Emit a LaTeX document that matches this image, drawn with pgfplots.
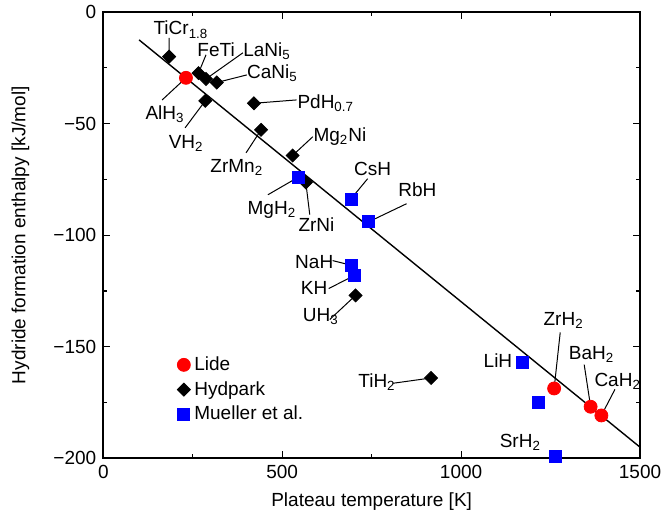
\documentclass[border=0pt]{standalone}
\usepackage{pgfplots}
\pgfplotsset{compat=1.18}
\usepackage{fontspec}
\setmainfont{Liberation Sans}
\definecolor{lidered}{RGB}{255,0,0}
\definecolor{muellerblue}{RGB}{0,0,255}

\begin{document}
\begin{tikzpicture}[font=\fontsize{9.5}{11}\selectfont]
\begin{axis}[
  set layers,
  scale only axis,
  width=268.35pt, height=223.15pt,
  xmin=0, xmax=1500, ymin=-200, ymax=0,
  xtick={0,500,1000,1500},
  ytick={-200,-150,-100,-50,0},
  yticklabels={−200,−150,−100,−50,0},
  minor x tick num=1, minor y tick num=1,
  tick align=inside,
  major tick length=3.5pt, minor tick length=2pt,
  axis line style={line width=0.9pt},
  every tick/.style={black, line width=0.6pt},
  /pgf/number format/assume math mode=true,
  /pgf/number format/set thousands separator={},
  xlabel={Plateau temperature [K]},
  ylabel={Hydride formation enthalpy [kJ/mol]},
  xlabel style={at={(axis description cs:0.5,0)}, anchor=base, yshift=-24.2pt},
  ylabel style={at={(axis description cs:-0.1453,0.5)}, anchor=base, rotate=0},
  clip=false,
  legend cell align=left,
  legend style={draw=none, fill=none, at={(0.126,0.247)}, anchor=north west,
    row sep=0pt, font=\fontsize{9.5}{11.5}\selectfont},
]

% leader lines from the labels to their compounds, kept behind the marks
\begin{pgfonlayer}{axis background}
\draw[line width=0.5pt]
  (axis cs:184,-11.6) -- (axis cs:184,-20)
  (axis cs:287,-19.2) -- (axis cs:266,-27.4)
  (axis cs:390,-18.3) -- (axis cs:287,-30)
  (axis cs:401,-28.2) -- (axis cs:317,-31.6)
  (axis cs:164.5,-39.4) -- (axis cs:231,-29.5)
  (axis cs:228.6,-51.9) -- (axis cs:285,-39.8)
  (axis cs:540,-39.4) -- (axis cs:421,-40.9)
  (axis cs:399,-63.1) -- (axis cs:441,-52.8)
  (axis cs:585.5,-55.9) -- (axis cs:529,-64.3)
  (axis cs:738.8,-74.7) -- (axis cs:692,-83.8)
  (axis cs:847.6,-85.9) -- (axis cs:742,-94)
  (axis cs:460,-81.9) -- (axis cs:544,-74.1)
  (axis cs:577,-90.8) -- (axis cs:566,-76.4)
  (axis cs:641,-111.4) -- (axis cs:693,-113.5)
  (axis cs:630,-123.9) -- (axis cs:703,-118)
  (axis cs:633,-137.8) -- (axis cs:705,-127)
  (axis cs:808.5,-166.4) -- (axis cs:916,-164)
  (axis cs:1277,-143.6) -- (axis cs:1260,-168.7)
  (axis cs:1344,-158) -- (axis cs:1362,-176.9)
  (axis cs:1430,-169.1) -- (axis cs:1392,-180.8);
\end{pgfonlayer}

% Lide
\addplot[only marks, mark=*, mark size=3.25pt, color=lidered]
  coordinates {(231,-29.5) (1260,-168.7) (1362,-176.9) (1392,-180.8)};
\addlegendentry{Lide}

% Hydpark
\addplot[only marks, mark=square*, mark size=2.3pt, mark options={rotate=45}, color=black]
  coordinates {(184,-20) (266,-27.4) (287,-30) (317,-31.6) (285,-39.8)
               (421,-40.9) (441,-52.8) (529,-64.3) (566,-76.4) (705,-127) (916,-164)};
\addlegendentry{Hydpark}

% Mueller et al.
\addplot[only marks, mark=square*, mark size=3pt, color=muellerblue]
  coordinates {(544,-74.1) (692,-83.8) (742,-94) (693,-113.5) (703,-118)
               (1172,-157) (1215,-175) (1264,-199)};
\addlegendentry{Mueller et al.}

% linear trend
\addplot[black, line width=0.7pt, forget plot] coordinates {(100,-12.5) (1500,-195)};

% compound labels
\begin{scope}[every node/.style={anchor=base west, inner sep=0pt}]
\node at (axis cs:139.4,-10.3) {TiCr\textsubscript{1.8}};
\node at (axis cs:262,-20) {FeTi};
\node at (axis cs:390.3,-20) {LaNi\textsubscript{5}};
\node at (axis cs:401,-29.7) {CaNi\textsubscript{5}};
\node at (axis cs:117,-48.3) {AlH\textsubscript{3}};
\node at (axis cs:182,-61.3) {VH\textsubscript{2}};
\node at (axis cs:541.7,-43.1) {PdH\textsubscript{0.7}};
\node at (axis cs:298.3,-71.9) {ZrMn\textsubscript{2}};
\node at (axis cs:586.4,-58) {Mg\textsubscript{2}Ni};
\node at (axis cs:699.8,-73.2) {CsH};
\node at (axis cs:823.3,-82.6) {RbH};
\node at (axis cs:402.3,-90.8) {MgH\textsubscript{2}};
\node at (axis cs:544.5,-98.3) {ZrNi};
\node at (axis cs:535.3,-115.1) {NaH};
\node at (axis cs:551.2,-126.6) {KH};
\node at (axis cs:556.8,-138.6) {UH\textsubscript{3}};
\node at (axis cs:711.8,-168.4) {TiH\textsubscript{2}};
\node at (axis cs:1229.5,-140.5) {ZrH\textsubscript{2}};
\node at (axis cs:1300,-155.7) {BaH\textsubscript{2}};
\node at (axis cs:1371.7,-167.7) {CaH\textsubscript{2}};
\node at (axis cs:1062,-159.4) {LiH};
\node at (axis cs:1107,-195.2) {SrH\textsubscript{2}};
\end{scope}
\end{axis}
% page frame: fixed margins around the plotting area
\pgfresetboundingbox
\path[use as bounding box]
  ([shift={(-51.65pt,-28.35pt)}]current axis.south west)
  rectangle ([shift={(10.5pt,6pt)}]current axis.north east);
\end{tikzpicture}
\end{document}
